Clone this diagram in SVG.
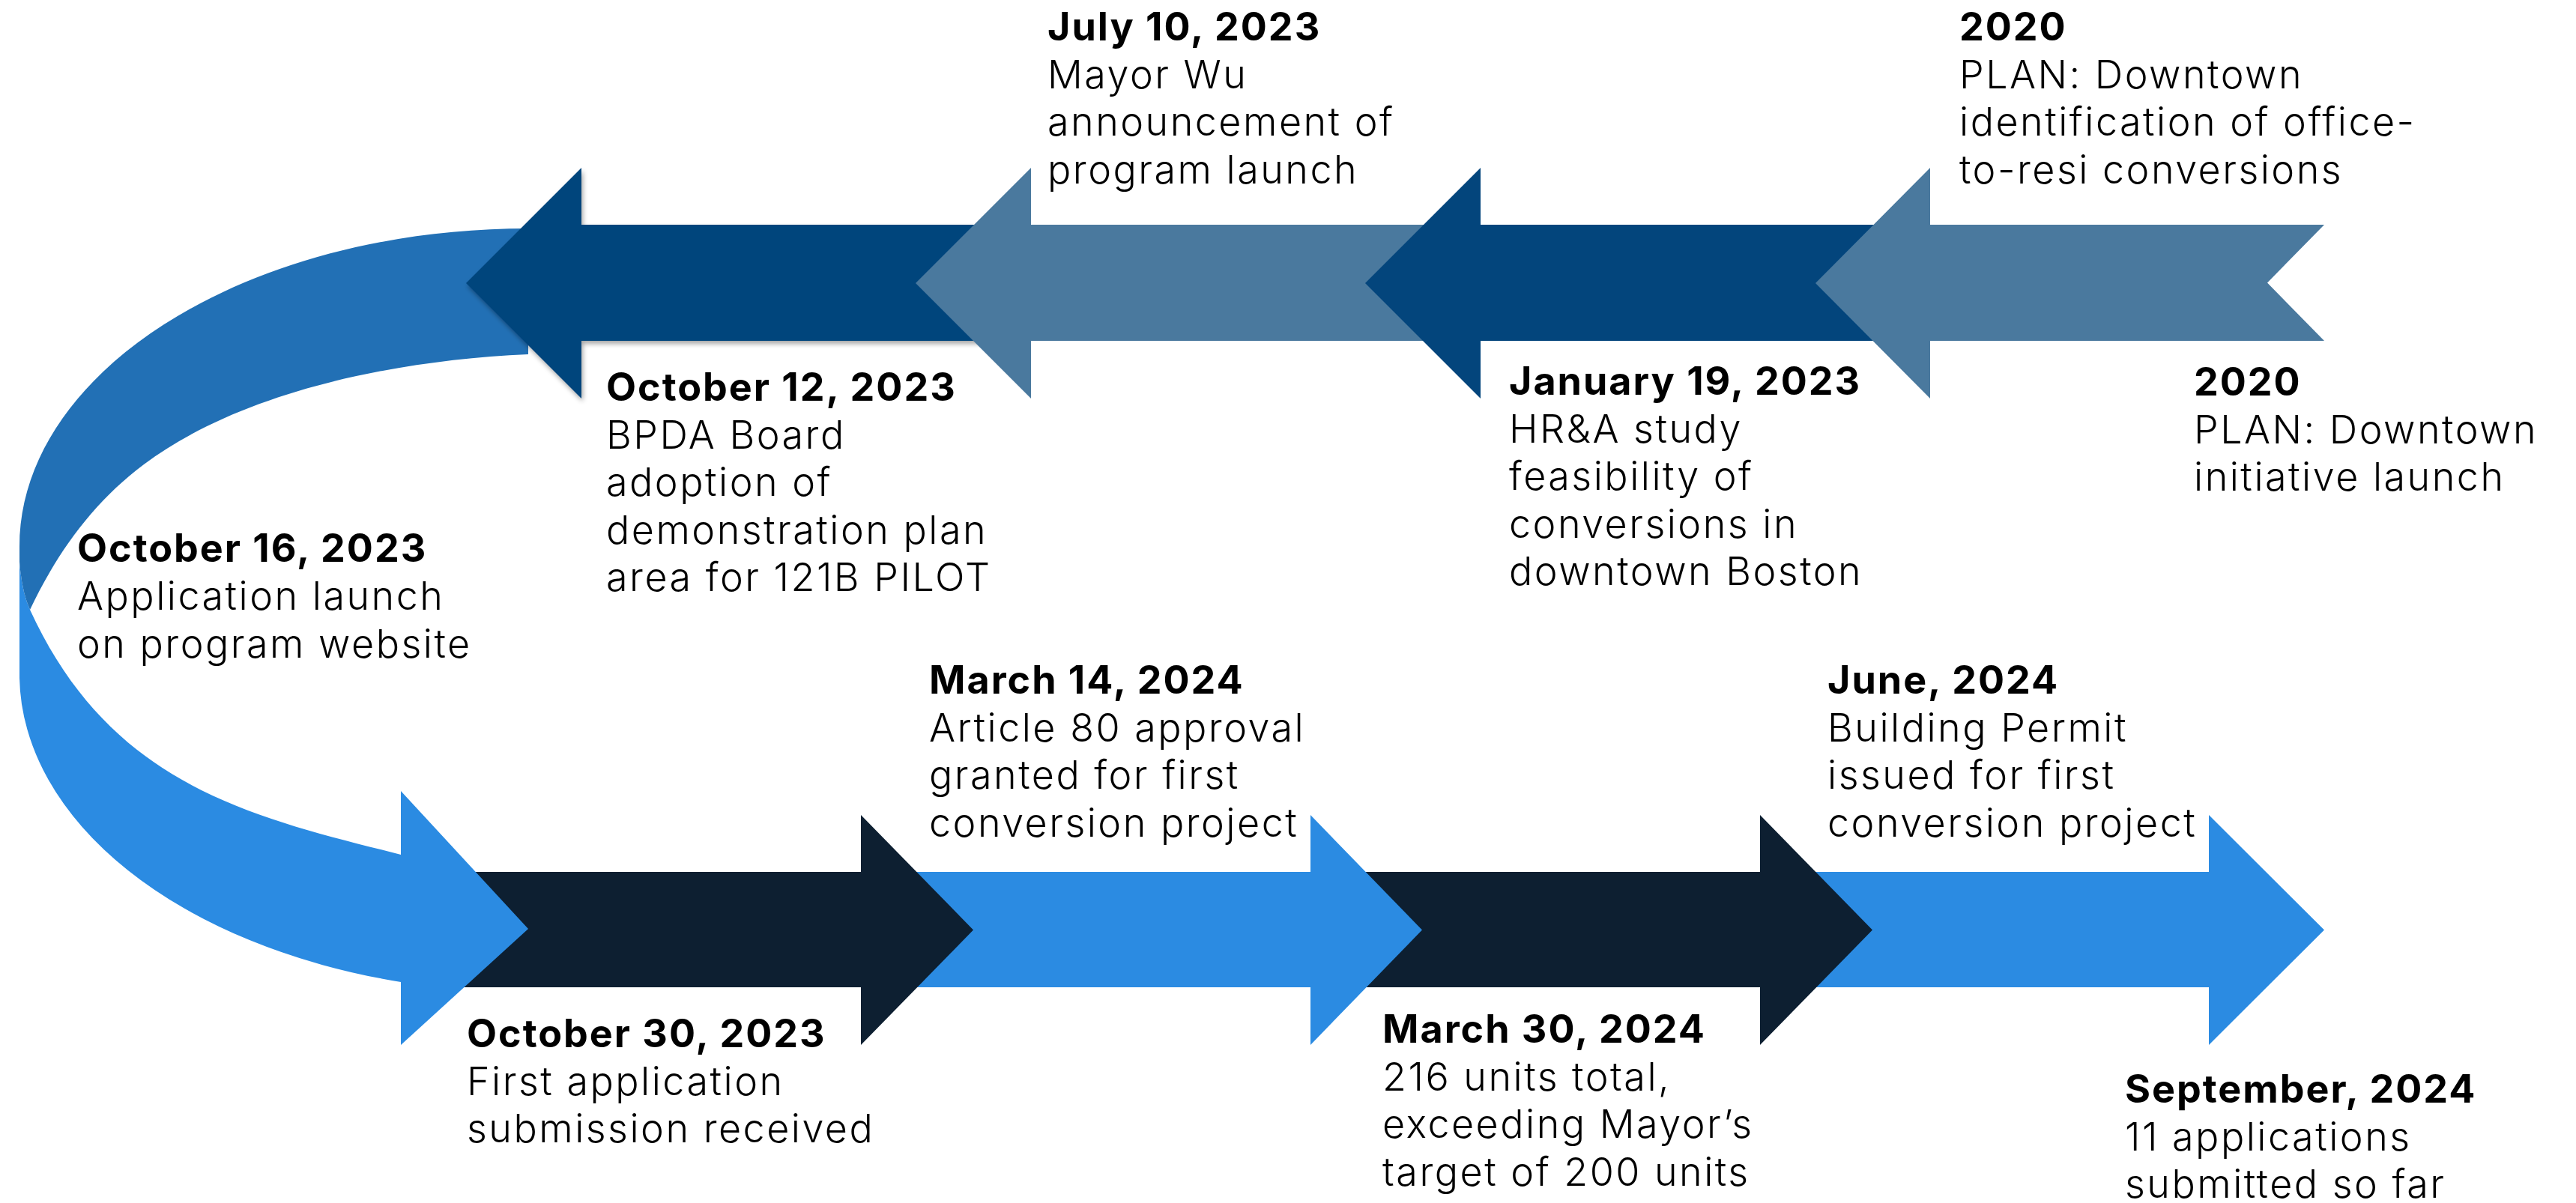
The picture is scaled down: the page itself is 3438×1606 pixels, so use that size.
<svg xmlns="http://www.w3.org/2000/svg" width="3438" height="1606" viewBox="0 0 3438 1606">
  <defs>
    <filter id="soft-shadow" x="-10%" y="-10%" width="130%" height="130%">
      <feDropShadow dx="2" dy="4" stdDeviation="3" flood-color="#000" flood-opacity="0.35"/>
    </filter>
    <style>
      .navy-top { fill: #03457C; }
      .steel { fill: #4A799E; }
      .navy-low { fill: #0D1F31; }
      .sky { fill: #2B8BE2; }
      .curve-back { fill: #2270B5; }
      text { font-family: Inter, "Open Sans", "DejaVu Sans", sans-serif; fill: #000; font-size: 52px; }
      .date { font-weight: 700; letter-spacing: 2px; }
      .desc { font-weight: 300; letter-spacing: 2.5px; }
    </style>
  </defs>

  <rect width="3438" height="1606" fill="#fff"/>

  <!-- Timeline band: arrows drawn back to front -->
  <g id="timeline">
    <!-- lower row, pointing right (rightmost sits underneath) -->
    <path id="arrow-jun-2024" class="sky" d="M2380,1164 H2948 V1088 L3102,1241.5 L2948,1395 V1318 H2380 Z"/>
    <path id="arrow-mar30-2024" class="navy-low" d="M1780,1164 H2349 V1088 L2499,1241.5 L2349,1395 V1318 H1780 Z"/>
    <path id="arrow-mar14-2024" class="sky" d="M1180,1164 H1749 V1088 L1898,1241.5 L1749,1395 V1318 H1180 Z"/>
    <path id="arrow-oct30-2023" class="navy-low" d="M570,1164 H1149 V1088 L1299,1241.5 L1149,1395 V1318 H570 Z"/>

    <!-- curved turn from the upper row down to the lower row -->
    <g id="arrow-oct16-2023">
      <path class="sky" d="M26,750 L26,905 A681 425 0 0 0 535,1311 L535,1395 L705,1240 L535,1056 L535,1141 C341,1091 149,1052 40,814 Q29,790 26,750 Z"/>
      <path class="curve-back" d="M705,305 C330,305 26,495 26,730 L26,750 Q29,790 40,814 C76,738 124,671 192,620 C312,530 505,482 705,473 Z"/>
    </g>

    <!-- upper row, pointing left (rightmost sits on top) -->
    <path id="arrow-oct12-2023" class="navy-top" filter="url(#soft-shadow)" d="M622,378 L776,224 V300 H1338 V455 H776 V532 Z"/>
    <path id="arrow-jul10-2023" class="steel" d="M1222,378 L1376,224 V300 H1938 V455 H1376 V532 Z"/>
    <path id="arrow-jan19-2023" class="navy-top" d="M1822,378 L1976,224 V300 H2538 V455 H1976 V532 Z"/>
    <path id="arrow-2020" class="steel" d="M2423,378 L2576,224 V300 H3102 L3026,377.5 L3102,455 H2576 V532 Z"/>
  </g>

  <!-- Milestone labels -->
  <g id="label-jul10-2023">
    <text class="date" x="1398" y="54">July 10, 2023</text>
    <text class="desc" x="1398" y="117.5">Mayor Wu</text>
    <text class="desc" x="1398" y="181">announcement of</text>
    <text class="desc" x="1398" y="244.5">program launch</text>
  </g>

  <g id="label-2020-identification">
    <text class="date" x="2615" y="54">2020</text>
    <text class="desc" x="2615" y="117.5">PLAN: Downtown</text>
    <text class="desc" x="2615" y="181">identification of office-</text>
    <text class="desc" x="2615" y="244.5">to-resi conversions</text>
  </g>

  <g id="label-oct12-2023">
    <text class="date" x="809" y="535">October 12, 2023</text>
    <text class="desc" x="809" y="598.5">BPDA Board</text>
    <text class="desc" x="809" y="662">adoption of</text>
    <text class="desc" x="809" y="725.5">demonstration plan</text>
    <text class="desc" x="809" y="789">area for 121B PILOT</text>
  </g>

  <g id="label-jan19-2023">
    <text class="date" x="2014" y="527">January 19, 2023</text>
    <text class="desc" x="2014" y="590.5">HR&amp;A study</text>
    <text class="desc" x="2014" y="654">feasibility of</text>
    <text class="desc" x="2014" y="717.5">conversions in</text>
    <text class="desc" x="2014" y="781">downtown Boston</text>
  </g>

  <g id="label-2020-launch">
    <text class="date" x="2928" y="528">2020</text>
    <text class="desc" x="2928" y="591.5">PLAN: Downtown</text>
    <text class="desc" x="2928" y="655">initiative launch</text>
  </g>

  <g id="label-oct16-2023">
    <text class="date" x="103" y="750">October 16, 2023</text>
    <text class="desc" x="103" y="814">Application launch</text>
    <text class="desc" x="103" y="878">on program website</text>
  </g>

  <g id="label-mar14-2024">
    <text class="date" x="1240" y="926">March 14, 2024</text>
    <text class="desc" x="1240" y="989.5">Article 80 approval</text>
    <text class="desc" x="1240" y="1053">granted for first</text>
    <text class="desc" x="1240" y="1116.5">conversion project</text>
  </g>

  <g id="label-jun-2024">
    <text class="date" x="2439" y="926">June, 2024</text>
    <text class="desc" x="2439" y="989.5">Building Permit</text>
    <text class="desc" x="2439" y="1053">issued for first</text>
    <text class="desc" x="2439" y="1116.5">conversion project</text>
  </g>

  <g id="label-oct30-2023">
    <text class="date" x="623" y="1398">October 30, 2023</text>
    <text class="desc" x="623" y="1461.5">First application</text>
    <text class="desc" x="623" y="1525">submission received</text>
  </g>

  <g id="label-mar30-2024">
    <text class="date" x="1845" y="1392">March 30, 2024</text>
    <text class="desc" x="1845" y="1455.5">216 units total,</text>
    <text class="desc" x="1845" y="1519">exceeding Mayor’s</text>
    <text class="desc" x="1845" y="1582.5">target of 200 units</text>
  </g>

  <g id="label-sep-2024">
    <text class="date" x="2836" y="1472">September, 2024</text>
    <text class="desc" x="2836" y="1535.5">11 applications</text>
    <text class="desc" x="2836" y="1599">submitted so far</text>
  </g>
</svg>
